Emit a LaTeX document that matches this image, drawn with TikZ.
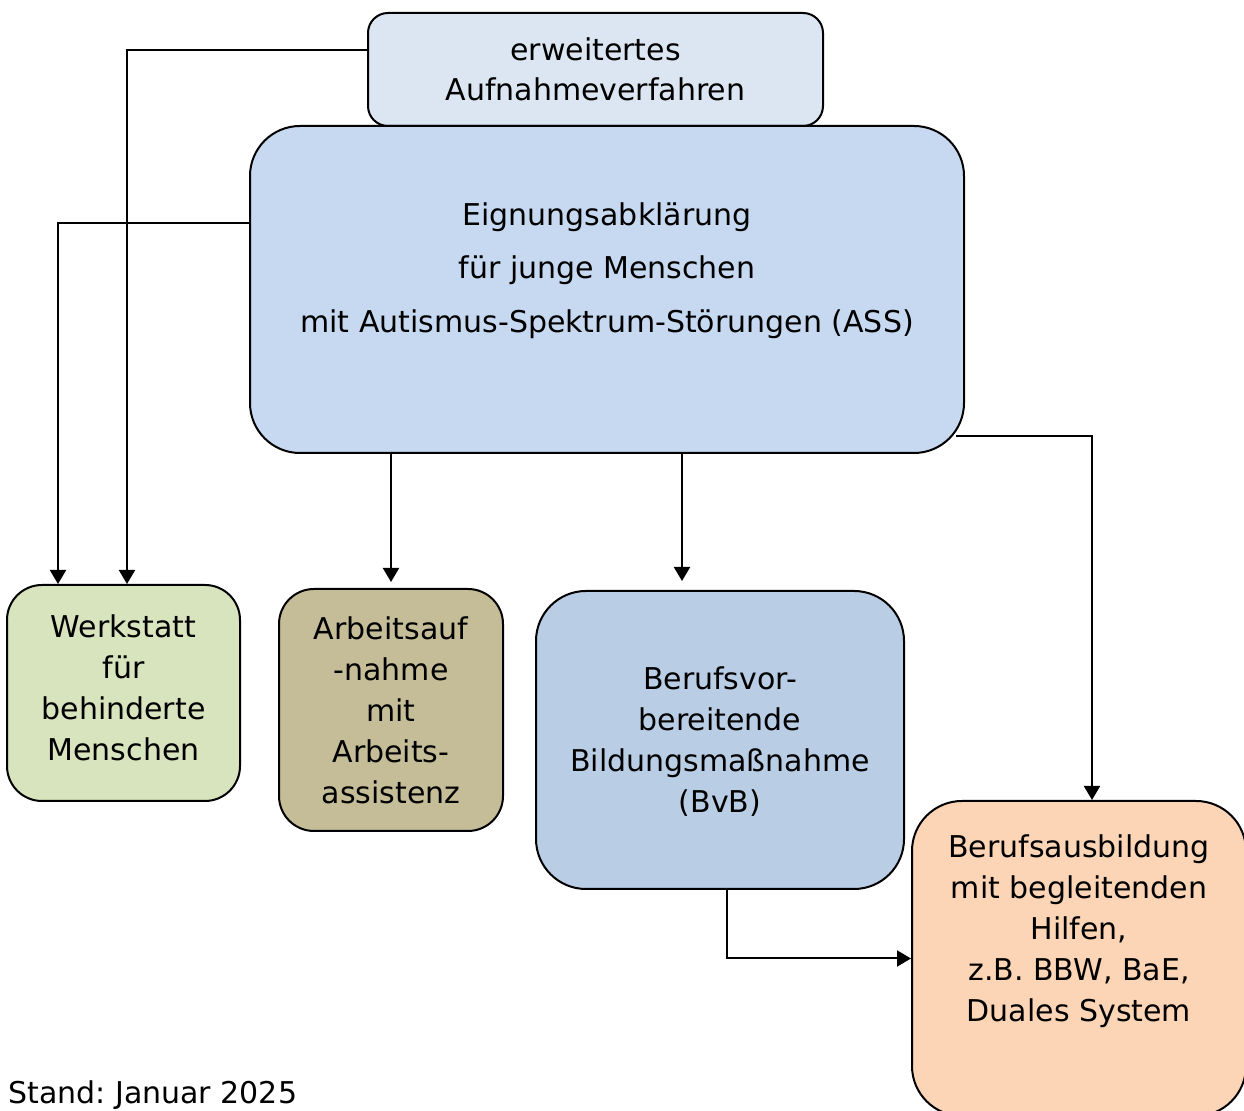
\documentclass[tikz,border=0pt]{standalone}
\usepackage{fontspec}
\setmainfont{DejaVu Sans}
\usepackage{xcolor}
\usetikzlibrary{arrows.meta}
\frenchspacing
\definecolor{auffill}{HTML}{DCE6F2}
\definecolor{mainfill}{HTML}{C6D9F0}
\definecolor{werkfill}{HTML}{D7E4BD}
\definecolor{arbfill}{HTML}{C4BD97}
\definecolor{bvbfill}{HTML}{B9CDE5}
\definecolor{ausfill}{HTML}{FBD5B5}
\tikzstyle{box}=[draw,line width=1pt,align=center,inner sep=0pt,font=\fontsize{15}{20.5}\selectfont]
\tikzstyle{link}=[line width=1pt,-{Triangle[length=7pt,width=8pt]}]

\begin{document}
\begin{tikzpicture}[x=.5pt,y=-.5pt]
	\useasboundingbox (0,0) rectangle (1244,1111);
	\node[box,fill=auffill,rounded corners=10pt,minimum width=227.5pt,minimum height=56.5pt,font=\fontsize{15}{20}\selectfont] (auf) at (595.5,69.5) {erweitertes\\Aufnahmeverfahren};
	\node[box,fill=mainfill,rounded corners=25pt,minimum width=357pt,minimum height=163.5pt,font=\fontsize{15}{26.75}\selectfont,text depth=22pt] (main) at (607,289.5) {Eignungsabklärung\\für junge Menschen\\mit Autismus-Spektrum-Störungen (ASS)};
	\node[box,fill=werkfill,rounded corners=17.5pt,minimum width=116.5pt,minimum height=108pt,text depth=5pt] (werk) at (123.5,693) {Werkstatt\\für\\behinderte\\Menschen};
	\node[box,fill=arbfill,rounded corners=17.5pt,minimum width=112pt,minimum height=121pt] (arb) at (391,710) {Arbeitsauf\\-nahme\\mit\\Arbeits-\\assistenz};
	\node[box,fill=bvbfill,rounded corners=25pt,minimum width=184pt,minimum height=149pt,text depth=0pt] (bvb) at (720,740) {Berufsvor-\\bereitende\\Bildungsmaßnahme\\(BvB)};
	\node[box,fill=ausfill,rounded corners=25pt,minimum width=167pt,minimum height=157.5pt,text depth=30pt] (aus) at (1079,958.5) {Berufsausbildung\\mit begleitenden\\Hilfen,\\z.B. BBW, BaE,\\Duales System};
	\node[anchor=west,inner sep=0pt,font=\fontsize{15}{20.5}\selectfont] (stand) at (8,1095) {Stand: Januar 2025};
	% Pfeile
	\coordinate (werkin1) at ([xshift=1.75pt]werk.north);
	\coordinate (werkin2) at ([xshift=-32.75pt]werk.north);
	\coordinate (bvbin) at ([xshift=-19pt]bvb.north);
	\coordinate (ausin) at ([xshift=6.5pt]aus.north);
	\draw[link] ([yshift=9.75pt]auf.west) -| (werkin1);
	\draw[link] ([yshift=33.25pt]main.west) -| (werkin2);
	\draw[link,shorten >=3pt] (main.south -| arb.north) -- (arb.north);
	\draw[link,shorten >=4.5pt] (main.south -| bvbin) -- (bvbin);
	\draw[link] ([shift={(-4.5pt,9pt)}]main.south east) -| (ausin);
	\draw[link] ([xshift=3.5pt]bvb.south) |- (aus.west);
\end{tikzpicture}
\end{document}
